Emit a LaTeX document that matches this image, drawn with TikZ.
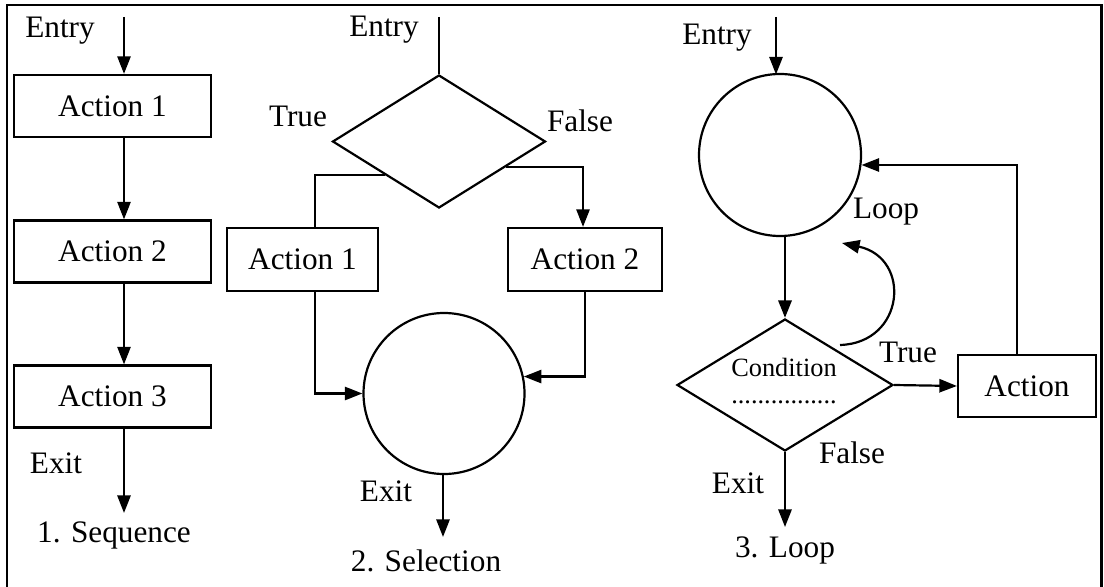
\documentclass[tikz,border=0pt]{standalone}
\usepackage{fontspec}
\setmainfont{Liberation Serif}
\usetikzlibrary{shapes.geometric,arrows.meta,calc}
\begin{document}
\begin{tikzpicture}[x=0.02cm,y=-0.02cm,
  line width=1.25pt,
  every node/.style={inner sep=0pt,font=\fontsize{17.8}{20}\selectfont},
  arr/.style={-{Triangle[length=10pt,width=7.5pt]}},
  boxn/.style={draw,rectangle,minimum height=62*0.02cm},
  circn/.style={draw,circle,minimum size=#1*0.02cm},
  diam/.style={draw,diamond,inner sep=0pt},
  small/.style={font=\fontsize{15}{17}\selectfont}]
\useasboundingbox (0,0) rectangle (1104,587);
% frame
\draw (7,590) -- (7,5) -- (1101.5,5) -- (1101.5,590);

% ---------- 1. Sequence ----------
\node (sen) at (60,31) {Entry};
\coordinate (s0) at (124,17);
\node[boxn,minimum width=197*0.02cm] (sq1) at (112.5,106) {Action 1};
\node[boxn,minimum width=197*0.02cm] (sq2) at (112.5,251.5) {Action 2};
\node[boxn,minimum width=197*0.02cm] (sq3) at (112.5,396.5) {Action 3};
\coordinate (sEnd) at (124,513);
\node (sex) at (56,463) {Exit};
\node (sti) at (114,535) {1. Sequence};
\draw[arr] (s0) -- (s0 |- sq1.north);
\draw[arr] (s0 |- sq1.south) -- (s0 |- sq2.north);
\draw[arr] (s0 |- sq2.south) -- (s0 |- sq3.north);
\draw[arr] (s0 |- sq3.south) -- (sEnd);

% ---------- 2. Selection ----------
\node (ben) at (384,30) {Entry};
\coordinate (b0) at (439,17);
\node[diam,minimum width=213*0.02cm,minimum height=133*0.02cm] (d1) at (439,141.5) {};
\node (btr) at (298,116) {True};
\node (bfa) at (580,121) {False};
\node[boxn,minimum width=151*0.02cm,minimum height=63*0.02cm] (sa1) at (302.5,259.5) {Action 1};
\node[boxn,minimum width=154*0.02cm,minimum height=63*0.02cm] (sa2) at (585,259.5) {Action 2};
\node[circn=161] (c1) at (444,393.5) {};
\coordinate (xl) at (315,0);
\coordinate (xr) at (583,0);
\coordinate (bEnd) at (443,537);
\node (bex) at (386,491) {Exit};
\node (bti) at (426,561) {2. Selection};
\draw (b0) -- (d1.north);
\draw (d1.south west) -| (xl |- sa1.north);
\draw[arr] ($(d1.east)!0.38!(d1.south)$) -| (xr |- sa2.north);
\draw[arr] (xl |- sa1.south) |- (c1.west);
\draw[arr] (sa2.south) |- (c1.12);
\draw[arr] (c1.south -| bEnd) -- (bEnd);

% ---------- 3. Loop ----------
\node (len) at (717,38) {Entry};
\coordinate (l0) at (776,17);
\node[circn=162] (c2) at (780,155) {};
\node (llo) at (886,212) {Loop};
\node[diam,minimum width=216*0.02cm,minimum height=132*0.02cm] (d2) at (785,385) {};
\node[small] (cond) at (784,367) {Condition};
\node[small] (dots) at (784,402) {................};
\node[boxn,minimum width=138*0.02cm] (act) at (1027,386) {Action};
\node (ltr) at (908,352) {True};
\node (lfa) at (852,453) {False};
\node (lex) at (738,483) {Exit};
\node (lti) at (785,550) {3. Loop};
\coordinate (xa) at (1017,0);
\coordinate (lEnd) at (785,527);
\coordinate (cs) at (840,345);
\coordinate (ce) at (842,243);
\draw[arr] (l0) -- (776,74.5);
\draw[arr,line width=1.6pt] (c2.south -| d2.north) -- (d2.north);
\draw[arr] (cs) .. controls (905,343) and (912,258) .. (ce);
\draw[arr] (d2.east) -- (act.west);
\draw[arr] (xa |- act.north) |- (c2.-7);
\draw[arr] (d2.south) -- (lEnd);
\end{tikzpicture}
\end{document}
